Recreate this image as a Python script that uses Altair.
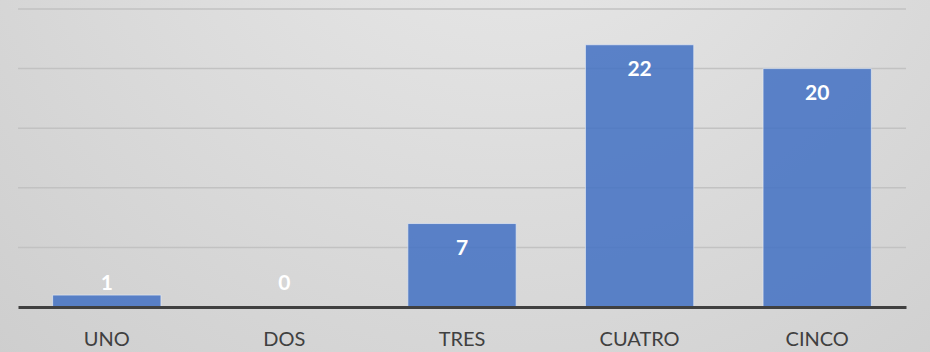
import altair as alt
import pandas as pd

categories = ["UNO", "DOS", "TRES", "CUATRO", "CINCO"]
values = [1, 0, 7, 22, 20]
grid_values = [5, 10, 15, 20, 25]

df = pd.DataFrame({"categoria": categories, "valor": values})
grid_df = pd.DataFrame({"g": grid_values})

W, H = 888, 298
FONT = "Lato"
y_scale = alt.Scale(domain=[0, 25], nice=False)

# soft radial background behind the whole chart
background = alt.Chart(pd.DataFrame({"k": [0]})).mark_rect(
    color=alt.Gradient(
        gradient="radial",
        x1=0.55, y1=0.1, r1=0.0,
        x2=0.55, y2=0.1, r2=0.95,
        stops=[
            alt.GradientStop(offset=0, color="#EBEBEB"),
            alt.GradientStop(offset=1, color="#C9C9C9"),
        ],
    )
).encode(
    x=alt.value(-18), x2=alt.value(912),
    y=alt.value(-9), y2=alt.value(343),
)

# horizontal gridlines
grid = alt.Chart(grid_df).mark_rule(color="#C2C2C2", strokeWidth=1.5).encode(
    y=alt.Y("g:Q", scale=y_scale, axis=None),
    x=alt.value(0), x2=alt.value(W),
)

base = alt.Chart(df).encode(
    x=alt.X(
        "categoria:N",
        sort=categories,
        title=None,
        scale=alt.Scale(paddingInner=0.39, paddingOuter=0.195),
        axis=alt.Axis(
            labelAngle=0,
            labelFont=FONT,
            labelFontSize=20,
            labelColor="#404040",
            labelPadding=22,
            ticks=False,
            domainColor="#404040",
            domainWidth=3,
            grid=False,
            zindex=1,
        ),
    )
)

bars = base.mark_bar(
    color="#4472C4", opacity=0.86, stroke="#E8EEF8", strokeWidth=1, strokeOpacity=0.7
).encode(
    y=alt.Y("valor:Q", title=None, scale=y_scale, axis=None)
)

# value labels sit just inside the top of each bar; short bars get a floor
labels = base.transform_calculate(
    pos="max(datum.valor, 4)"
).mark_text(
    font=FONT, fontSize=21, fontWeight="bold", color="white",
    baseline="middle", dy=25,
).encode(
    y=alt.Y("pos:Q", scale=y_scale, axis=None),
    text=alt.Text("valor:Q"),
)

chart = alt.layer(background, grid, bars, labels).properties(
    width=W, height=H,
    autosize=alt.AutoSizeParams(type="none"),
    padding={"left": 18, "top": 9, "right": 24, "bottom": 45},
).configure_view(strokeWidth=0)

chart.save("out.html", embed_options={"renderer": "svg", "actions": False})
